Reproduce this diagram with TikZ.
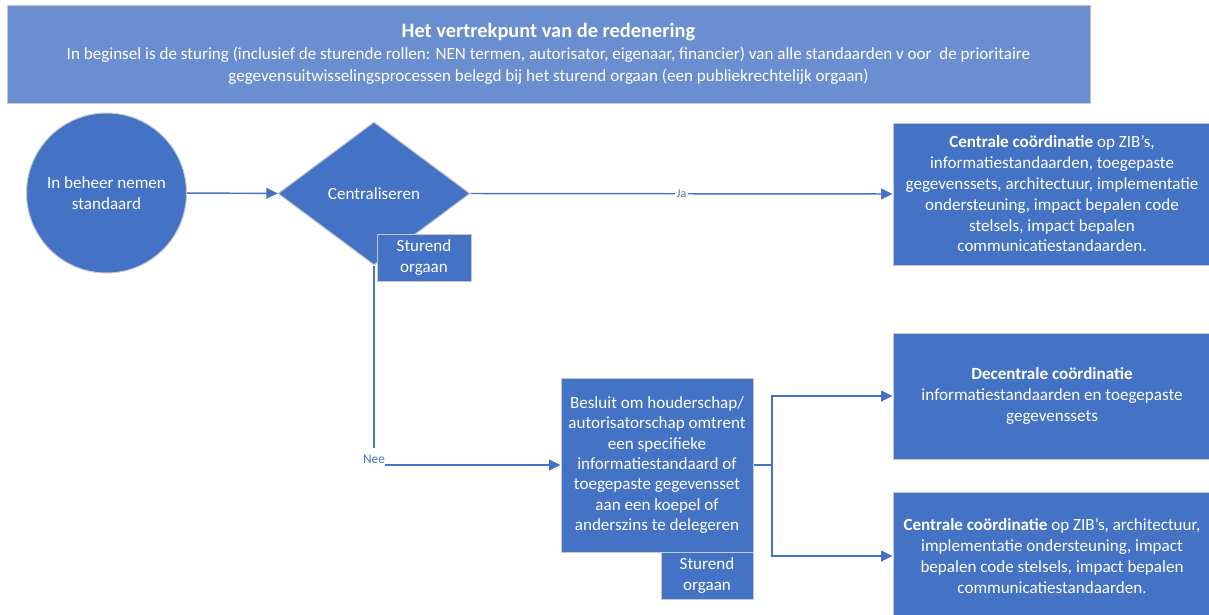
\documentclass[tikz,border=0pt]{standalone}
\usepackage{fontspec}
\setmainfont{Carlito}
\usetikzlibrary{shapes.geometric,arrows.meta}
\definecolor{officeblue}{HTML}{4472C4}
\definecolor{headblue}{HTML}{6A8ED0}
\definecolor{rim}{HTML}{C4C8D0}
\begin{document}
\begin{tikzpicture}[x=0.75pt,y=-0.75pt,
  blok/.style={rectangle,fill=officeblue,draw=rim,line width=0.75pt,text=white,align=center,
    inner sep=0pt,font=\fontsize{12.8}{15.6}\selectfont},
  lijn/.style={draw=officeblue,line width=1.1pt},
  pijl/.style={lijn,-{Triangle[length=8.5pt,width=8pt]}},
  keuze/.style={fill=white,text=officeblue,inner sep=1pt}]
\useasboundingbox (0,0) rectangle (1209,614);
\node[blok,fill=headblue,minimum width=812.25pt,minimum height=73.5pt,
  font=\fontsize{12.8}{16.5}\selectfont] (kop) at (548.5,54)
  {{\fontsize{15.3}{16.5}\selectfont\bfseries Het vertrekpunt van de redenering}\\
   In beginsel is de sturing (inclusief de sturende rollen: NEN termen, autorisator, eigenaar, financier) van alle standaarden v oor\ \ de prioritaire\\
   gegevensuitwisselingsprocessen belegd bij het sturend orgaan (een publiekrechtelijk orgaan)};
\node[blok,circle,minimum size=120pt] (start) at (106.5,193) {In beheer nemen\\standaard};
\node[blok,diamond,minimum width=144pt,minimum height=107.25pt,aspect=1.34] (besl) at (374,193.5) {Centraliseren};
\node[blok,minimum width=70.5pt,minimum height=35.25pt] (orgaan1) at (424,257.5) {Sturend\\orgaan};
\node[blok,minimum width=238.5pt,minimum height=106.5pt] (centraal) at (1052,194)
  {\textbf{Centrale coördinatie} op ZIB’s,\\informatiestandaarden, toegepaste\\gegevenssets, architectuur, implementatie\\ondersteuning, impact bepalen code\\stelsels, impact bepalen\\communicatiestandaarden.};
\node[blok,minimum width=144pt,minimum height=130.5pt,font=\fontsize{12.8}{15.2}\selectfont] (deleg) at (657,465)
  {Besluit om houderschap/\\autorisatorschap omtrent\\een specifieke\\informatiestandaard of\\toegepaste gegevensset\\aan een koepel of\\anderszins te delegeren};
\node[blok,minimum width=69pt,minimum height=35.25pt] (orgaan2) at (707,575.5) {Sturend\\orgaan};
\node[blok,minimum width=238.5pt,minimum height=94.5pt] (decentraal) at (1052,396)
  {\textbf{Decentrale coördinatie}\\informatiestandaarden en toegepaste\\gegevenssets};
\node[blok,minimum width=238.5pt,minimum height=96pt] (centraal2) at (1052,556)
  {\textbf{Centrale coördinatie} op ZIB’s, architectuur,\\implementatie ondersteuning, impact\\bepalen code stelsels, impact bepalen\\communicatiestandaarden.};
\coordinate (splits) at (772,465);
\draw[pijl] (start) -- (besl);
\draw[pijl] (besl.east) -- node[keuze,font=\fontsize{9}{10}\selectfont] {Ja} (centraal.west);
\draw[pijl] (besl.south) |- node[keuze,inner sep=0pt,minimum width=17pt,minimum height=16pt,yshift=4.5pt,
  font=\fontsize{10}{11}\selectfont] {Nee} (deleg.west);
\draw[lijn] (deleg.east) -- (splits);
\draw[pijl] (splits) |- (decentraal.west);
\draw[pijl] (splits) |- (centraal2.west);
\end{tikzpicture}
\end{document}
